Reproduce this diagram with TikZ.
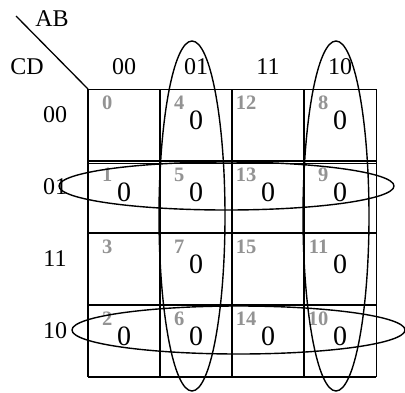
\documentclass[tikz,border=0pt]{standalone}
\usepackage{fontspec}
\setmainfont{Liberation Serif}
\tikzset{
  lbl/.style={inner sep=0pt,font=\fontsize{24}{24}\selectfont},
  cellnum/.style={inner sep=0pt,anchor=east,text=gray!85,font=\fontsize{20.5}{20.5}\selectfont\bfseries},
  cellval/.style={inner sep=0pt,font=\fontsize{28}{28}\selectfont},
  gridline/.style={line width=1.6pt},
  loop/.style={line width=1.4pt}
}
\begin{document}
\begin{tikzpicture}[x=1pt,y=-1pt]
    \useasboundingbox (0,0) rectangle (405,392);% page size
    % corner
    \coordinate (corner) at (88,89);
    \coordinate (tip) at (16,16);
    \draw[line width=1.3pt] (tip) -- (corner);% draw the diagonal
    \node[lbl] (ab) at (52,19) {AB};
    \node[lbl] (cd) at (27,67) {CD};
    % column and row labels
    \foreach \c/\t in {0/00,1/01,2/11,3/10}
        \node[lbl] (col\c) at (124+72*\c,67) {\t};
    \foreach \r/\t in {0/00,1/01,2/11,3/10}
        \node[lbl] (row\r) at (55,115+72*\r) {\t};
    % grid
    \foreach \x in {88,160,232,304}
        \draw[gridline] (\x,89) -- (\x,377);
    \draw[line width=1pt] (376,89) -- (376,377);% right border
    \draw[line width=1pt] (88,89) -- (376,89);% top border
    \foreach \y in {161,233,305,377}
        \draw[gridline] (88,\y) -- (376,\y);
    \draw[line width=1pt] (88,163.5) -- (376,163.5);% second line
    % cells
    \foreach \c/\cv in {0/0,1/1,2/3,3/2}
        \foreach \r/\rv in {0/0,1/1,2/3,3/2}{
            \pgfmathtruncatemacro{\n}{4*\cv+\rv}
            \node[cellnum] (n\n) at (88+72*\c+24.5,89+72*\r+14) {\n};
            \pgfmathtruncatemacro{\z}{(mod(\c,2)==1) || (mod(\r,2)==1)}
            \ifnum\z=1
                \node[cellval] (v\n) at (124+72*\c,89+72*\r+31) {0};
            \fi
        }
    % loops
    \draw[loop] (192,216) ellipse [x radius=33,y radius=175];% column 01
    \draw[loop] (336,216) ellipse [x radius=33,y radius=175];% column 10
    \draw[loop] (226.5,186) ellipse [x radius=167.5,y radius=24];% row 01
    \draw[loop] (238.5,330) ellipse [x radius=166.5,y radius=24];% row 10
\end{tikzpicture}
\end{document}
